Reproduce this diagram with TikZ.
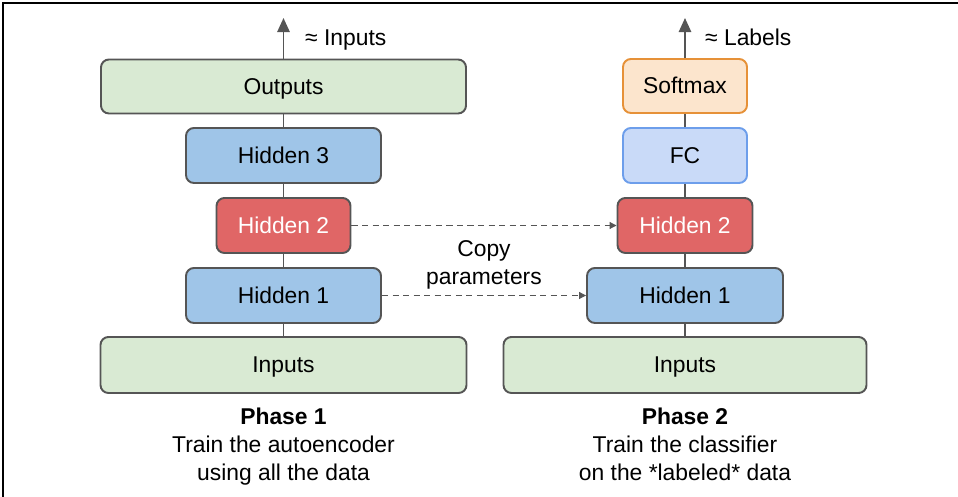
\documentclass[tikz,border=0pt]{standalone}
\usepackage{fontspec}
\setmainfont{Liberation Sans}
\usetikzlibrary{arrows.meta}

\definecolor{edgegray}{HTML}{555555}
\definecolor{greenfill}{HTML}{D9EAD3}
\definecolor{bluefill}{HTML}{9FC5E8}
\definecolor{redfill}{HTML}{E06666}
\definecolor{orangefill}{HTML}{FCE5CD}
\definecolor{orangeedge}{HTML}{E69138}
\definecolor{fcfill}{HTML}{C9DAF8}
\definecolor{fcedge}{HTML}{6D9EEB}

\begin{document}
\begin{tikzpicture}[
	font=\fontsize{13}{15.5}\selectfont,
	layer/.style={draw=edgegray, line width=1.1pt, rounded corners=4.5pt, minimum height=1.1cm, inner sep=0pt, text height=1.02em, text depth=0.14em},
	io/.style={layer, fill=greenfill, minimum height=1.08cm},
	hid/.style={layer, fill=bluefill, minimum width=3.9cm},
	code/.style={layer, fill=redfill, text=white},
	link/.style={draw=edgegray, line width=1.1pt},
	up/.style={link, -{Triangle[width=7pt,length=8pt]}},
	copy/.style={draw=edgegray, line width=0.6pt, dashed, dash pattern=on 3.5pt off 2.5pt, -{Triangle[width=4pt,length=4pt]}},
	caption/.style={align=center, anchor=north, inner sep=0pt, font=\fontsize{13}{15.7}\selectfont}
	]
	\useasboundingbox (0,0) rectangle (19.16,-9.94);
	% frame
	\draw[line width=1.2pt] (0.06,-9.94) -- (0.06,-0.06) -- (19.16,-0.06);

	% phase 1: autoencoder
	\node[io, minimum width=7.3cm] (outL) at (5.67,-1.73) {Outputs};
	\node[hid] (h3L) at (5.67,-3.11) {Hidden 3};
	\node[code, minimum width=2.68cm] (h2L) at (5.67,-4.51) {Hidden 2};
	\node[hid] (h1L) at (5.67,-5.91) {Hidden 1};
	\node[io, minimum width=7.32cm, minimum height=1.12cm] (inL) at (5.67,-7.3) {Inputs};
	\coordinate (topL) at (5.67,-0.36);
	\node[anchor=base west] (apxL) at (5.98,-0.91) {≈ Inputs};

	\draw[link] (inL) -- (h1L);
	\draw[link] (h1L) -- (h2L);
	\draw[link] (h2L) -- (h3L);
	\draw[link] (h3L) -- (outL);
	\draw[up] (outL) -- (topL);

	% phase 2: classifier
	\node[layer, fill=orangefill, draw=orangeedge, minimum width=2.48cm, minimum height=1.08cm] (soft) at (13.7,-1.72) {Softmax};
	\node[layer, fill=fcfill, draw=fcedge, minimum width=2.48cm] (fc) at (13.7,-3.11) {FC};
	\node[code, minimum width=2.7cm] (h2R) at (13.7,-4.51) {Hidden 2};
	\node[hid, minimum width=3.92cm] (h1R) at (13.7,-5.91) {Hidden 1};
	\node[io, minimum width=7.26cm, minimum height=1.12cm] (inR) at (13.7,-7.3) {Inputs};
	\coordinate (topR) at (13.7,-0.36);
	\node[anchor=base west] (apxR) at (13.98,-0.91) {≈ Labels};

	\draw[link] (inR) -- (h1R);
	\draw[link] (h1R) -- (h2R);
	\draw[link] (h2R) -- (fc);
	\draw[link] (fc) -- (soft);
	\draw[up] (soft) -- (topR);

	% copied weights
	\draw[copy] (h2L) -- (h2R);
	\draw[copy] (h1L) -- (h1R);
	\node[align=center] (cp) at (9.68,-5.30) {Copy\\parameters};

	\node[caption] (capL) at (5.67,-8.16) {\textbf{Phase 1}\\Train the autoencoder\\using all the data};
	\node[caption] (capR) at (13.7,-8.16) {\textbf{Phase 2}\\Train the classifier\\on the *labeled* data};
\end{tikzpicture}
\end{document}
